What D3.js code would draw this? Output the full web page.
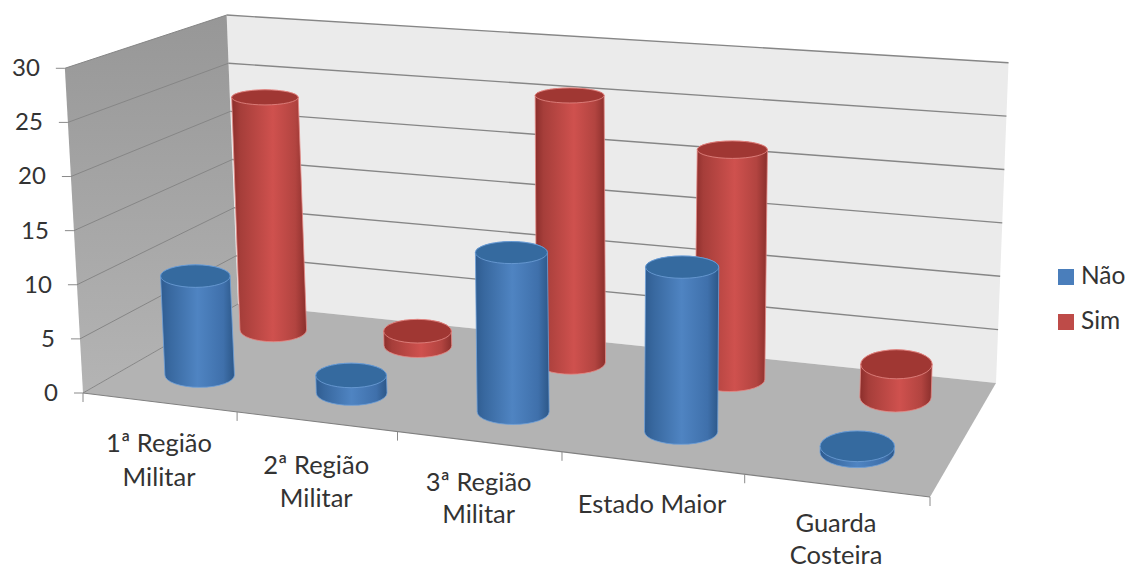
<!DOCTYPE html>
<html><head><meta charset="utf-8">
<script src="https://cdn.jsdelivr.net/npm/d3@7/dist/d3.min.js"></script>
<style>html,body{margin:0;padding:0;background:#fff;overflow:hidden}text{font-family:Lato,"Open Sans",sans-serif;fill:#333}</style>
</head><body><svg id="c" width="1128" height="570"></svg>
<script>
const categories=[["1ª Região","Militar"],["2ª Região","Militar"],["3ª Região","Militar"],["Estado Maior"],["Guarda","Costeira"]];
const seriesNames=["Não","Sim"];
const naoValues=[9.3,1.6,14.2,14.3,0.5];
const simValues=[23.2,1.4,25.4,21.4,3];
const yTickValues=[0,5,10,15,20,25,30];

const floorQuad=[[83,393],[930,497],[996,383],[238,304]];
const vanish=[620,10000];
const heightShare=[0.0338,0.039,0.0333,0.0298]; // share of the way to the vanishing point at the value 30, per floor corner
function homography(q){
  const [[x0,y0],[x1,y1],[x2,y2],[x3,y3]]=q;
  const dx1=x1-x2,dx2=x3-x2,sx=x0-x1+x2-x3,dy1=y1-y2,dy2=y3-y2,sy=y0-y1+y2-y3;
  const den=dx1*dy2-dx2*dy1,g=(sx*dy2-dx2*sy)/den,h=(dx1*sy-sx*dy1)/den;
  const a=x1-x0+g*x1,b=x3-x0+h*x3,d=y1-y0+g*y1,e=y3-y0+h*y3;
  return (u,v)=>{const w=g*u+h*v+1;return [(a*u+b*v+x0)/w,(d*u+e*v+y0)/w];};
}
const H0=homography(floorQuad);
const tScale=d3.scaleLinear().domain([0,30]).range([0,1]);
const uScale=d3.scaleBand().domain(categories.map((c,i)=>i)).range([0,1]);
const vScale=d3.scalePoint().domain(seriesNames).range([0.02,1.02]).padding(0.5);
const warp=d3.scaleLinear().domain([0,.2,.4,.6,.8,1]).range([0,.0036,.0044,-.0006,.0041,0]);
const barShift=d3.scaleLinear().domain([.1,.3,.5,.7,.9]).range([-.004,-.005,0,0,-.002]);
const labelDy=d3.scaleLinear().domain([.1,.3,.5,.7,.9]).range([49.6,52,49,50,46.4]);
const rxScale=d3.scaleLinear().domain([0,1]).range([33,36]);
const ryScale=d3.scaleLinear().domain([95,250,400]).range([7.5,11,12.5]);
function P(u,v,val){
  const uu=u+warp(u);
  const a=H0(uu,v);
  const s=(heightShare[0]*(1-uu)+heightShare[1]*uu)*(1-v)+(heightShare[3]*(1-uu)+heightShare[2]*uu)*v;
  const t=tScale(val)*s;
  return [a[0]-(vanish[0]-a[0])*t,a[1]-(vanish[1]-a[1])*t];
}

const svg=d3.select("#c");
const defs=svg.append("defs");
function grad(id,stops){const g=defs.append("linearGradient").attr("id",id);
  stops.forEach(([o,c])=>g.append("stop").attr("offset",o).attr("stop-color",c));}
grad("gBlue",[[0,"#2f5c90"],[.12,"#38689f"],[.5,"#4f84c2"],[.85,"#3f70ab"],[1,"#2c5788"]]);
grad("gRed",[[0,"#8b2e2b"],[.12,"#a63e3a"],[.55,"#cf514e"],[.85,"#b24440"],[1,"#8a2f2c"]]);
const wg=defs.append("linearGradient").attr("id","gWall").attr("x1",0).attr("y1",0).attr("x2",0).attr("y2",1);
wg.append("stop").attr("offset",0).attr("stop-color","#979797");wg.append("stop").attr("offset",1).attr("stop-color","#b4b4b4");

const poly=(pts)=>"M"+pts.map(p=>p.join(",")).join("L")+"Z";
svg.append("path").attr("d",poly([P(0,1,0),P(0,1,30),P(1,1,30),P(1,1,0)])).attr("fill","#ebebeb");
svg.append("path").attr("d",poly([P(0,0,0),P(0,0,30),P(0,1,30),P(0,1,0)])).attr("fill","url(#gWall)");
svg.append("path").attr("d",poly([P(0,0,0),P(1,0,0),P(1,1,0),P(0,1,0)])).attr("fill","#b3b3b3");
yTickValues.forEach(val=>{
  const a=P(0,0,val),b=P(0,1,val),c=P(1,1,val);
  svg.append("path").attr("d",`M${a}L${b}`).attr("fill","none").attr("stroke","#868686").attr("stroke-width",1);
  if(val>0) svg.append("path").attr("d",`M${b}L${c}`).attr("fill","none").attr("stroke","#868686").attr("stroke-width",1.4);
  svg.append("line").attr("x1",a[0]-9).attr("y1",a[1]).attr("x2",a[0]).attr("y2",a[1]).attr("stroke","#8a8a8a");
  svg.append("text").attr("x",a[0]-25).attr("y",a[1]).attr("dy","0.33em").attr("text-anchor","end").attr("font-size",24).text(val);
});
{const a=P(0,0,0),b=P(1,0,0);svg.append("path").attr("d",`M${a}L${b}`).attr("stroke","#808080").attr("stroke-width",1.2);}
categories.forEach((c,i)=>{
  [uScale(i),i==categories.length-1?1:null].forEach(u=>{ if(u===null)return;
    const p=P(u,0,0);svg.append("line").attr("x1",p[0]).attr("y1",p[1]).attr("x2",p[0]).attr("y2",p[1]+9).attr("stroke","#8a8a8a");});
  const um=uScale(i)+uScale.bandwidth()/2;
  const m=P(um,0,0);
  const t=svg.append("text").attr("text-anchor","middle").attr("font-size",25.5);
  c.forEach((s,j)=>t.append("tspan").attr("x",m[0]).attr("y",m[1]+labelDy(um)+j*(34-2.2*um)).text(s));
});
function cyl(i,name,val,col){
  const u0=uScale(i)+uScale.bandwidth()/2,u=u0+barShift(u0),v=vScale(name);
  const b=P(u,v,0),t=P(u,v,val);
  const rx=rxScale(u)+(name==="Não"?1.5:0);
  const extra=Math.max(0,u-.7)*12;
  const ryB=ryScale(b[1])+extra,ryT=ryScale(t[1])+extra;
  const g=svg.append("g");
  g.append("path").attr("d",`M${t[0]-rx},${t[1]}L${b[0]-rx},${b[1]}A${rx},${ryB} 0 0 0 ${b[0]+rx},${b[1]}L${t[0]+rx},${t[1]}A${rx},${ryT} 0 0 0 ${t[0]-rx},${t[1]}Z`)
    .attr("fill",`url(#${col.g})`).attr("stroke",col.h).attr("stroke-width",.8);
  g.append("ellipse").attr("cx",t[0]).attr("cy",t[1]).attr("rx",rx).attr("ry",ryT).attr("fill",col.top).attr("stroke",col.h).attr("stroke-width",.8);
}
const colBlue={g:"gBlue",top:"#356a9f",h:"#6f9fd8"},colRed={g:"gRed",top:"#a03733",h:"#e58a86"};
simValues.forEach((d,i)=>cyl(i,"Sim",d,colRed));
naoValues.forEach((d,i)=>cyl(i,"Não",d,colBlue));
[["#4a7ebb","Não",269],["#be4b48","Sim",314]].forEach(([c,n,y])=>{
  svg.append("rect").attr("x",1058).attr("y",y).attr("width",16).attr("height",16).attr("fill",c);
  svg.append("text").attr("x",1081).attr("y",y+15).attr("font-size",24.5).text(n);
});
</script></body></html>
